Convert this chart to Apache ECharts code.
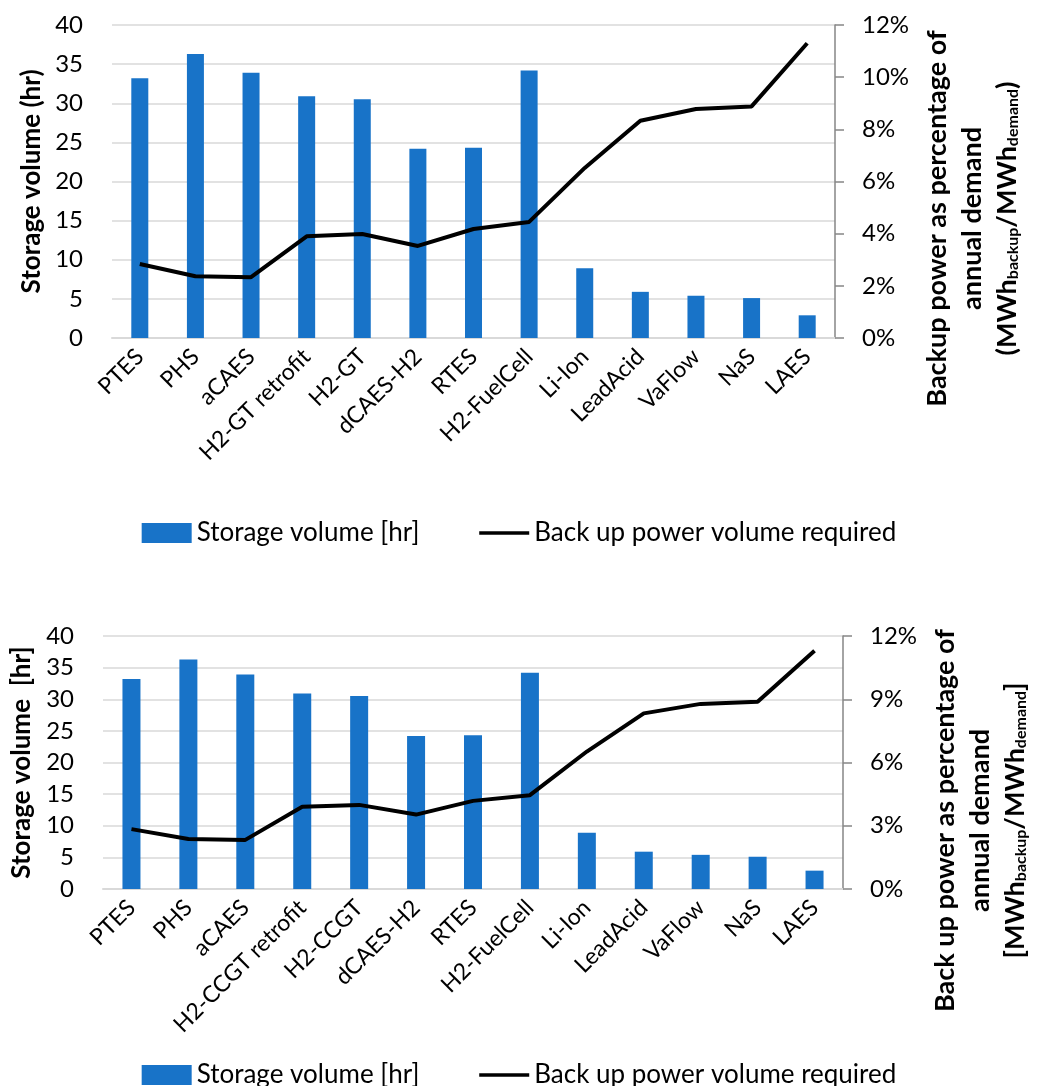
<!DOCTYPE html>
<html>
<head>
<meta charset="utf-8">
<script src="https://cdn.jsdelivr.net/npm/echarts@6/dist/echarts.min.js"></script>
<style>
html,body{margin:0;padding:0;background:#fff;}
#c{width:1038px;height:1086px;}
</style>
</head>
<body>
<div id="c"></div>
<script>
const categoriesTop = ['PTES','PHS','aCAES','H2-GT retrofit','H2-GT','dCAES-H2','RTES','H2-FuelCell','Li-Ion','LeadAcid','VaFlow','NaS','LAES'];
const categoriesBottom = ['PTES','PHS','aCAES','H2-CCGT retrofit','H2-CCGT','dCAES-H2','RTES','H2-FuelCell','Li-Ion','LeadAcid','VaFlow','NaS','LAES'];
const storageVolume = [33.2, 36.3, 33.9, 30.9, 30.5, 24.2, 24.3, 34.2, 8.9, 5.9, 5.4, 5.1, 2.9];
const backupPct = [2.84, 2.37, 2.33, 3.90, 3.99, 3.53, 4.18, 4.45, 6.52, 8.33, 8.78, 8.88, 11.3];
const leftTicks = {min: 0, max: 40, interval: 5};
const rightTicksTop = {min: 0, max: 12, interval: 2};
const rightTicksBottom = {min: 0, max: 12, interval: 3};

const FONT = 'Lato';
const BLUE = '#1873C8';
const barName = 'Storage volume [hr]';
const lineName = 'Back up power volume required';

const chart = echarts.init(document.getElementById('c'), null, {renderer: 'canvas'});

const subRich = {
  sub: {fontSize: 16, fontWeight: 'bold', fontFamily: FONT, color: '#000', padding: [11, 0, 0, 0]}
};

function xAxis(gridIndex, cats) {
  return {
    type: 'category', gridIndex: gridIndex, data: cats,
    axisLine: {show: true, lineStyle: {color: '#d9d9d9', width: 2}},
    axisTick: {show: false},
    axisLabel: {rotate: 45, interval: 0, fontFamily: FONT, fontSize: 23, color: '#000', margin: 15}
  };
}
function leftAxis(gridIndex, name, gap) {
  return {
    type: 'value', gridIndex: gridIndex, position: 'left',
    min: leftTicks.min, max: leftTicks.max, interval: leftTicks.interval,
    name: name, nameLocation: 'middle', nameRotate: 90, nameGap: gap,
    nameTextStyle: {fontFamily: FONT, fontSize: 26, fontWeight: 'bold', color: '#000'},
    axisLine: {show: false}, axisTick: {show: false},
    splitLine: {show: true, lineStyle: {color: '#d9d9d9', width: 1.5}},
    axisLabel: {fontFamily: FONT, fontSize: 24, color: '#000', margin: 29}
  };
}
function rightAxis(gridIndex, ticks, name, pad) {
  return {
    type: 'value', gridIndex: gridIndex, position: 'right',
    min: ticks.min, max: ticks.max, interval: ticks.interval,
    name: name, nameLocation: 'middle', nameRotate: 90, nameGap: 84,
    nameTextStyle: {fontFamily: FONT, fontSize: 27, fontWeight: 'bold', color: '#000', lineHeight: 35, align: 'center', padding: [0, pad, 0, 0], rich: subRich},
    axisLine: {show: true, lineStyle: {color: '#868686', width: 1.5}},
    axisTick: {show: true, length: 9, lineStyle: {color: '#868686', width: 1.5}},
    splitLine: {show: false},
    axisLabel: {fontFamily: FONT, fontSize: 24, color: '#000', margin: 27, formatter: '{value}%'}
  };
}
function legend(top) {
  return {
    top: top, left: 'center', itemWidth: 50, itemHeight: 20, itemGap: 58,
    textStyle: {fontFamily: FONT, fontSize: 26, color: '#000'},
    data: [
      {name: barName, icon: 'rect'},
      {name: lineName, itemStyle: {opacity: 0}, lineStyle: {color: '#000', width: 3.5}}
    ]
  };
}

const option = {
  animation: false,
  backgroundColor: '#fff',
  grid: [
    {left: 112, right: 203, top: 25, height: 313, containLabel: false, outerBoundsMode: 'none'},
    {left: 103, right: 195, top: 636, height: 253, containLabel: false, outerBoundsMode: 'none'}
  ],
  legend: [legend(515), legend(1057)],
  xAxis: [xAxis(0, categoriesTop), xAxis(1, categoriesBottom)],
  yAxis: [
    leftAxis(0, 'Storage volume (hr)', 66),
    rightAxis(0, rightTicksTop, 'Backup power as percentage of\nannual demand\n(MWh{sub|backup}/MWh{sub|demand})', 74),
    leftAxis(1, 'Storage volume  [hr]', 68),
    rightAxis(1, rightTicksBottom, 'Back up power as percentage of\nannual demand\n[MWh{sub|backup}/MWh{sub|demand}]', 116)
  ],
  series: [
    {name: barName, type: 'bar', xAxisIndex: 0, yAxisIndex: 0, data: storageVolume, barWidth: 17, itemStyle: {color: BLUE}},
    {name: lineName, type: 'line', xAxisIndex: 0, yAxisIndex: 1, data: backupPct, symbol: 'none', lineStyle: {color: '#000', width: 4}, itemStyle: {color: '#000'}},
    {name: barName, type: 'bar', xAxisIndex: 1, yAxisIndex: 2, data: storageVolume, barWidth: 18, itemStyle: {color: BLUE}},
    {name: lineName, type: 'line', xAxisIndex: 1, yAxisIndex: 3, data: backupPct, symbol: 'none', lineStyle: {color: '#000', width: 4}, itemStyle: {color: '#000'}}
  ]
};
chart.setOption(option);
</script>
</body>
</html>
